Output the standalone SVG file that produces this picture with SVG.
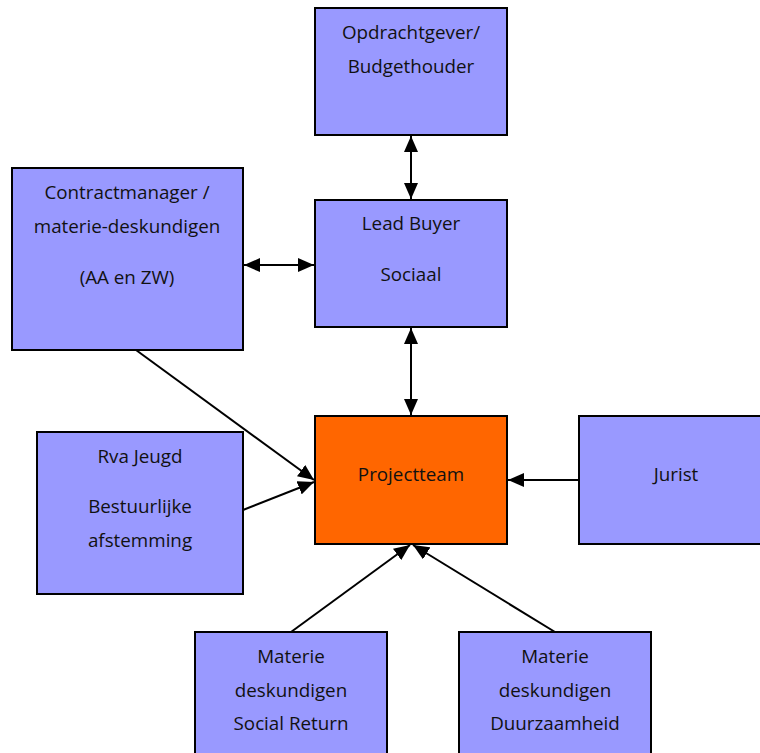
<svg xmlns="http://www.w3.org/2000/svg" width="760" height="753" viewBox="0 0 760 753">
<defs>
<marker id="ah" viewBox="0 0 16 14" refX="16" refY="7" markerWidth="16" markerHeight="14" markerUnits="userSpaceOnUse" orient="auto-start-reverse">
<path d="M0,0 L16,7 L0,14 Z" fill="#000"/>
</marker>
<style>
.box{fill:#9999ff;stroke:#000;stroke-width:2}
.org{fill:#ff6600;stroke:#000;stroke-width:2}
text{font-family:"Open Sans","Noto Sans",sans-serif;font-size:18.8px;fill:#111;text-anchor:middle}
.c{stroke:#000;stroke-width:2;fill:none}
</style>
</defs>
<rect width="760" height="753" fill="#fff"/>
<g id="connectors">
<line class="c" x1="411" y1="136" x2="411" y2="199" marker-start="url(#ah)" marker-end="url(#ah)"/>
<line class="c" x1="244" y1="265" x2="314" y2="265" marker-start="url(#ah)" marker-end="url(#ah)"/>
<line class="c" x1="411" y1="328" x2="411" y2="415" marker-start="url(#ah)" marker-end="url(#ah)"/>
<line class="c" x1="136" y1="350" x2="314" y2="480" marker-end="url(#ah)"/>
<line class="c" x1="243" y1="510" x2="314" y2="482" marker-end="url(#ah)"/>
<line class="c" x1="579" y1="480" x2="508" y2="480" marker-end="url(#ah)"/>
<line class="c" x1="291" y1="632" x2="410" y2="545" marker-end="url(#ah)"/>
<line class="c" x1="555" y1="632" x2="413" y2="545" marker-end="url(#ah)"/>
</g>
<g id="opdrachtgever">
<rect class="box" x="315" y="8" width="192" height="127"/>
<text x="411" y="39">Opdrachtgever/</text>
<text x="411" y="73">Budgethouder</text>
</g>
<g id="leadbuyer">
<rect class="box" x="315" y="200" width="192" height="127"/>
<text x="411" y="230">Lead Buyer</text>
<text x="411" y="281">Sociaal</text>
</g>
<g id="contractmanager">
<rect class="box" x="12" y="168" width="231" height="182"/>
<text x="127" y="199">Contractmanager /</text>
<text x="127" y="233">materie-deskundigen</text>
<text x="127" y="284">(AA en ZW)</text>
</g>
<g id="projectteam">
<rect class="org" x="315" y="416" width="192" height="128"/>
<text x="411" y="481">Projectteam</text>
</g>
<g id="rvajeugd">
<rect class="box" x="37" y="432" width="206" height="162"/>
<text x="140" y="463">Rva Jeugd</text>
<text x="140" y="513">Bestuurlijke</text>
<text x="140" y="547">afstemming</text>
</g>
<g id="jurist">
<rect class="box" x="579" y="416" width="190" height="128"/>
<text x="676" y="481">Jurist</text>
</g>
<g id="socialreturn">
<rect class="box" x="195" y="632" width="192" height="130"/>
<text x="291" y="663">Materie</text>
<text x="291" y="697">deskundigen</text>
<text x="291" y="730">Social Return</text>
</g>
<g id="duurzaamheid">
<rect class="box" x="459" y="632" width="192" height="130"/>
<text x="555" y="663">Materie</text>
<text x="555" y="697">deskundigen</text>
<text x="555" y="730">Duurzaamheid</text>
</g>
</svg>
